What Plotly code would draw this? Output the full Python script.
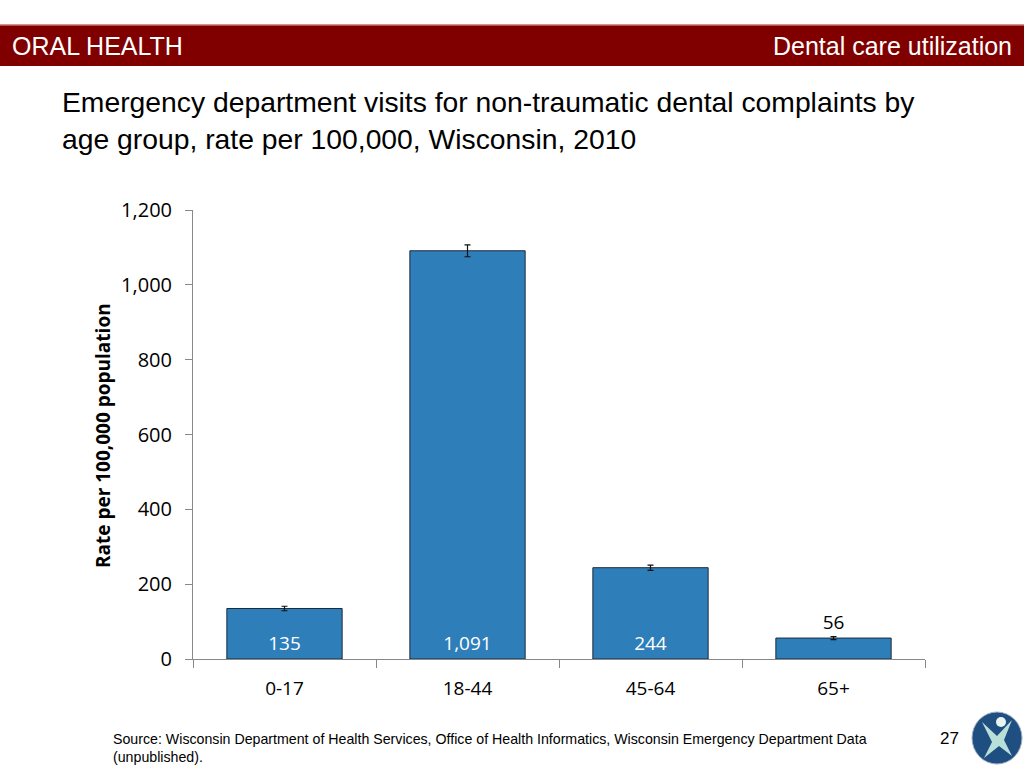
import plotly.graph_objects as go

# data
age_groups = ['0-17', '18-44', '45-64', '65+']
rates = [135, 1091, 244, 56]
err = [6, 16, 7, 4]
label_pos = ['inside', 'inside', 'inside', 'outside']
label_col = ['white', 'white', 'white', 'black']
y_ticks = [0, 200, 400, 600, 800, 1000, 1200]

W, H = 1024, 768
L, R, T, B = 193, 925, 210, 659   # plot area in pixels


def px(x):
    return (x - L) / (R - L)


def py(y):
    return (B - y) / (B - T)


fig = go.Figure()
fig.add_trace(go.Bar(
    x=age_groups, y=rates,
    marker=dict(color='#2E7EBA', line=dict(color='#1c2a3a', width=1)),
    error_y=dict(type='data', array=err, color='#111111', thickness=1.2, width=3),
    text=[f'{v:,}' for v in rates],
    textposition=label_pos,
    insidetextanchor='start',
    textfont=dict(family='Open Sans', size=19, color=label_col),
    cliponaxis=False,
    showlegend=False,
))

shapes = [
    # header band
    dict(type='rect', xref='paper', yref='paper', x0=px(0), x1=px(W), y0=py(66), y1=py(25),
         fillcolor='#800000', line=dict(width=0), layer='below'),
    dict(type='line', xref='paper', yref='paper', x0=px(0), x1=px(W), y0=py(25), y1=py(25),
         line=dict(color='#c07070', width=1.5)),
    # logo
    dict(type='circle', xref='paper', yref='paper', x0=px(972), x1=px(1022), y0=py(764), y1=py(712),
         fillcolor='#1f4e80', line=dict(color='#a0b0c8', width=1)),
    dict(type='path', xref='paper', yref='paper',
         path=(f'M {px(982)},{py(722)} L {px(997)},{py(736)} L {px(1012)},{py(720)} '
               f'L {px(1004)},{py(740)} L {px(1012)},{py(756)} L {px(999)},{py(746)} '
               f'L {px(984)},{py(758)} L {px(992)},{py(742)} Z'),
         fillcolor='#b8e0d8', line=dict(width=0)),
    dict(type='circle', xref='paper', yref='paper', x0=px(996), x1=px(1006), y0=py(727), y1=py(717),
         fillcolor='#e8f4f0', line=dict(width=0)),
]

annotations = [
    dict(text='ORAL HEALTH', x=px(10), y=py(46), xanchor='left', yanchor='middle',
         font=dict(family='Liberation Sans', size=25, color='white')),
    dict(text='Dental care utilization', x=px(1014), y=py(46), xanchor='right', yanchor='middle',
         font=dict(family='Liberation Sans', size=25, color='white')),
    dict(text='Emergency department visits for non-traumatic dental complaints by<br>'
              'age group, rate per 100,000, Wisconsin, 2010',
         x=px(60), y=py(120), xanchor='left', yanchor='middle', align='left',
         font=dict(family='Liberation Sans', size=28.3, color='black')),
    dict(text='<b>Rate per 100,000 population</b>', x=px(103), y=py(436), textangle=-90,
         xanchor='center', yanchor='middle',
         font=dict(family='Open Sans', size=19, color='black')),
    dict(text='Source: Wisconsin Department of Health Services, Office of Health Informatics, '
              'Wisconsin Emergency Department Data<br>(unpublished).',
         x=px(111), y=py(748), xanchor='left', yanchor='middle', align='left',
         font=dict(family='Liberation Sans', size=14.2, color='black')),
    dict(text='27', x=px(961), y=py(738), xanchor='right', yanchor='middle',
         font=dict(family='Liberation Sans', size=17, color='black')),
]
for a in annotations:
    a.update(xref='paper', yref='paper', showarrow=False)

fig.update_layout(
    width=W, height=H,
    margin=dict(l=L, r=W - R, t=T, b=H - B, pad=0),
    paper_bgcolor='white', plot_bgcolor='white',
    bargap=0.37,
    shapes=shapes, annotations=annotations,
    xaxis=dict(showline=True, linecolor='#888888', linewidth=1, ticks='outside',
               tickson='boundaries', ticklen=8, tickcolor='#888888',
               ticklabelstandoff=12,
               tickfont=dict(family='Open Sans', size=19, color='black'),
               showgrid=False, zeroline=False),
    yaxis=dict(range=[0, 1200], tickvals=y_ticks, tickformat=',d',
               showline=True, linecolor='#888888', linewidth=1, ticks='outside',
               ticklen=7, tickcolor='#888888', ticklabelstandoff=9,
               tickfont=dict(family='Open Sans', size=20, color='black'),
               showgrid=False, zeroline=False),
)

fig.write_html('out.html', config={'displayModeBar': False},
               post_script="document.body.style.margin='0';document.body.style.overflow='hidden';")
